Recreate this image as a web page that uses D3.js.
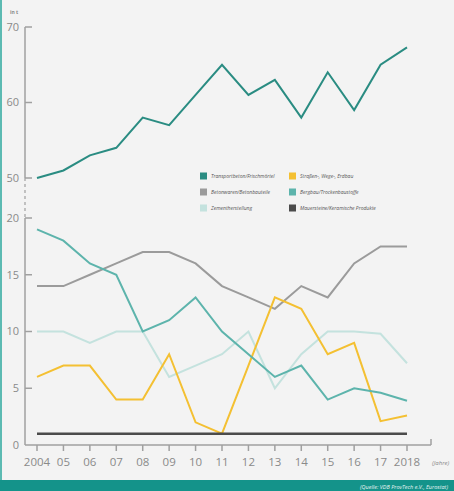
<!DOCTYPE html>
<html>
<head>
<meta charset="utf-8">
<script src="https://cdn.jsdelivr.net/npm/d3@7"></script>
<style>
  html, body { margin: 0; padding: 0; background: #f3f3f3; }
  svg { display: block; font-family: "Open Sans", sans-serif; }
</style>
</head>
<body>
<div id="chart"></div>
<script>
// values (in t)
const years = [2004, 2005, 2006, 2007, 2008, 2009, 2010, 2011, 2012, 2013, 2014, 2015, 2016, 2017, 2018];
const yearLabels = ["2004", "05", "06", "07", "08", "09", "10", "11", "12", "13", "14", "15", "16", "17", "2018"];

const transportbeton = [50, 51, 53, 54, 58, 57, 61, 65, 61, 63, 58, 64, 59, 65, 67.3];
const betonwaren = [14, 14, 15, 16, 17, 17, 16, 14, 13, 12, 14, 13, 16, 17.5, 17.5];
const zement = [10, 10, 9, 10, 10, 6, 7, 8, 10, 5, 8, 10, 10, 9.8, 7.2];
const strassenbau = [6, 7, 7, 4, 4, 8, 2, 1, 7, 13, 12, 8, 9, 2.1, 2.6];
const bergbau = [19, 18, 16, 15, 10, 11, 13, 10, 8, 6, 7, 4, 5, 4.6, 3.9];
const mauersteine = [1, 1, 1, 1, 1, 1, 1, 1, 1, 1, 1, 1, 1, 1, 1];

const upperTicks = [50, 60, 70];
const lowerTicks = [0, 5, 10, 15, 20];

const seriesNames = ["Transportbeton/Frischmörtel", "Betonwaren/Betonbauteile", "Zementherstellung",
                     "Straßen-, Wege-, Erdbau", "Bergbau/Trockenbaustoffe", "Mauersteine/Keramische Produkte"];
const seriesColors = ["#2a8c82", "#9b9b9b", "#c4e2de", "#f4c032", "#5db4ac", "#4b4b4b"];

const W = 454, H = 491;
const svg = d3.select("#chart").append("svg").attr("width", W).attr("height", H);

svg.append("rect").attr("width", W).attr("height", H).attr("fill", "#f3f3f3");
// left border and footer band
svg.append("rect").attr("x", 0).attr("y", 0).attr("width", 2).attr("height", 480).attr("fill", "#5cbab2");
svg.append("rect").attr("x", 0).attr("y", 480).attr("width", W).attr("height", H - 480).attr("fill", "#14938a");
svg.append("text").attr("x", 360).attr("y", 489).attr("fill", "#e6f4f2")
    .attr("font-size", 5.5).attr("font-style", "italic")
    .text("(Quelle: VDB ProvTech e.V., Eurostat)");

const x = d3.scaleLinear().domain([2004, 2018]).range([37, 407]);
const yUp = d3.scaleLinear().domain([50, 70]).range([178, 27]);
const yLow = d3.scaleLinear().domain([0, 20]).range([445, 218]);

const axisColor = "#a0a0a0";
const labelColor = "#8a8a8a";
const axisX = 25;

// y axis: solid upper part, dashed break, solid lower part
svg.append("line").attr("x1", axisX).attr("x2", axisX).attr("y1", yUp(70)).attr("y2", yUp(50))
    .attr("stroke", axisColor).attr("stroke-width", 1.5);
svg.append("line").attr("x1", axisX).attr("x2", axisX).attr("y1", yUp(50)).attr("y2", yLow(20))
    .attr("stroke", axisColor).attr("stroke-width", 1.2).attr("stroke-dasharray", "3,3");
svg.append("line").attr("x1", axisX).attr("x2", axisX).attr("y1", yLow(20)).attr("y2", yLow(0))
    .attr("stroke", axisColor).attr("stroke-width", 1.5);

function yTicks(ticks, scale, skipZero) {
    ticks.forEach(t => {
        if (!(skipZero && t === 0)) {
            svg.append("line").attr("x1", axisX).attr("x2", axisX + 7)
                .attr("y1", scale(t)).attr("y2", scale(t))
                .attr("stroke", axisColor).attr("stroke-width", 1.5);
        }
        svg.append("text").attr("x", axisX - 6).attr("y", scale(t)).attr("dy", "0.35em")
            .attr("text-anchor", "end").attr("font-size", 11).attr("fill", labelColor).text(t);
    });
}
yTicks(upperTicks, yUp, false);
yTicks(lowerTicks, yLow, true);

svg.append("text").attr("x", 10).attr("y", 14).attr("font-size", 5).attr("font-weight", "bold")
    .attr("fill", labelColor).text("in t");

// x axis
const baseY = yLow(0);
svg.append("line").attr("x1", axisX).attr("x2", 431).attr("y1", baseY).attr("y2", baseY)
    .attr("stroke", axisColor).attr("stroke-width", 1.5);
svg.append("line").attr("x1", 431).attr("x2", 431).attr("y1", baseY).attr("y2", baseY - 6)
    .attr("stroke", axisColor).attr("stroke-width", 1.5);
years.forEach((yr, i) => {
    svg.append("line").attr("x1", x(yr)).attr("x2", x(yr)).attr("y1", baseY).attr("y2", baseY + 6)
        .attr("stroke", axisColor).attr("stroke-width", 1.5);
    svg.append("text").attr("x", x(yr)).attr("y", 462).attr("dy", "0.35em")
        .attr("text-anchor", "middle").attr("font-size", 11.5).attr("fill", labelColor)
        .text(yearLabels[i]);
});
svg.append("text").attr("x", 432).attr("y", 463).attr("dy", "0.35em").attr("font-size", 6)
    .attr("font-style", "italic").attr("fill", labelColor).text("(Jahre)");

// lines
const lineUp = d3.line().x((d, i) => x(years[i])).y(d => yUp(d));
const lineLow = d3.line().x((d, i) => x(years[i])).y(d => yLow(d));

function drawSeries(data, gen, color, width) {
    svg.append("path").datum(data).attr("d", gen)
        .attr("fill", "none").attr("stroke", color).attr("stroke-width", width)
        .attr("stroke-linejoin", "miter");
}

drawSeries(transportbeton, lineUp, seriesColors[0], 2);
drawSeries(zement, lineLow, seriesColors[2], 2);
drawSeries(betonwaren, lineLow, seriesColors[1], 2);
drawSeries(strassenbau, lineLow, seriesColors[3], 2);
drawSeries(bergbau, lineLow, seriesColors[4], 2);
drawSeries(mauersteine, lineLow, seriesColors[5], 2.5);

// legend, two columns of three
const legend = svg.append("g");
seriesNames.forEach((name, i) => {
    const col = i < 3 ? 0 : 1;
    const row = i % 3;
    const lx = col === 0 ? 200 : 289;
    const ly = 176 + row * 16;
    legend.append("rect").attr("x", lx).attr("y", ly - 3.5).attr("width", 7).attr("height", 7)
        .attr("fill", seriesColors[i]);
    legend.append("text").attr("x", lx + 11).attr("y", ly).attr("dy", "0.35em")
        .attr("font-size", 5).attr("font-style", "italic").attr("fill", "#555").text(name);
});
</script>
</body>
</html>
